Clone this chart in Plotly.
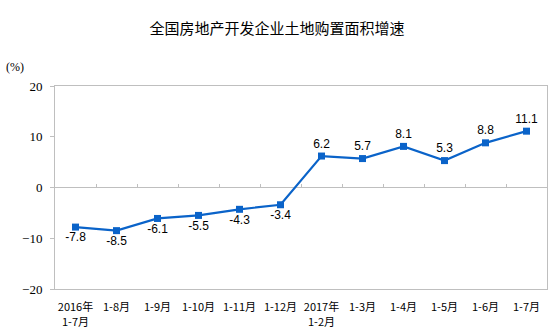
import plotly.graph_objects as go

# Land purchase area growth, year-to-date, percent
categories = ["2016年1-7月", "1-8月", "1-9月", "1-10月", "1-11月", "1-12月",
              "2017年1-2月", "1-3月", "1-4月", "1-5月", "1-6月", "1-7月"]
growth = [-7.8, -8.5, -6.1, -5.5, -4.3, -3.4, 6.2, 5.7, 8.1, 5.3, 8.8, 11.1]
y_ticks = [-20, -10, 0, 10, 20]

line_color = "#0A63C9"
grid_color = "#BFBFBF"
cjk_font = "Noto Sans CJK SC"

# Labels that start a new year are split over two lines: year on top, period below
tick_top, tick_bottom = [], []
for c in categories:
    if "年" in c:
        k = c.index("年") + 1
        tick_top.append(c[:k])
        tick_bottom.append(c[k:])
    else:
        tick_top.append(c)
        tick_bottom.append("")

text_pos = ["bottom center" if v < 0 else "top center" for v in growth]

fig = go.Figure()
fig.add_trace(go.Scatter(
    x=categories, y=growth,
    mode="lines+markers+text",
    line=dict(color=line_color, width=2.2),
    marker=dict(symbol="square", size=7, color=line_color),
    text=[f"{v:.1f}" for v in growth],
    textposition=text_pos,
    textfont=dict(family="Liberation Sans, Arial", size=12, color="#000000"),
    cliponaxis=False,
    showlegend=False,
))
# invisible trace carrying the boundary ticks on the zero line
fig.add_trace(go.Scatter(x=categories, y=growth, xaxis="x2", mode="none",
                         showlegend=False, hoverinfo="skip"))

annotations = [dict(text="(%)", xref="paper", yref="paper",
                    x=-0.082, y=1.095, xanchor="center", yanchor="middle",
                    showarrow=False,
                    font=dict(family="Liberation Serif", size=12, color="#000000"))]
for c, sub in zip(categories, tick_bottom):
    if sub:
        annotations.append(dict(text=sub, x=c, xref="x", y=-0.158, yref="paper",
                                xanchor="center", yanchor="middle", showarrow=False,
                                font=dict(family=cjk_font, size=11, color="#000000")))

fig.update_layout(
    width=554, height=336,
    margin=dict(l=55, r=7, t=86, b=47),
    paper_bgcolor="white", plot_bgcolor="white",
    title=dict(text="全国房地产开发企业土地购置面积增速",
               x=0.5, xanchor="center", y=0.915, yanchor="middle",
               font=dict(family=cjk_font, size=15, color="#000000")),
    xaxis=dict(
        type="category",
        showgrid=False, zeroline=False,
        showline=True, linecolor=grid_color, linewidth=1, mirror=True,
        ticks="", ticklabelstandoff=8,
        tickvals=categories, ticktext=tick_top,
        tickfont=dict(family=cjk_font, size=11, color="#000000"),
        range=[-0.5, 11.5],
    ),
    xaxis2=dict(
        type="category", overlaying="x", anchor="free", position=0.5,
        side="bottom", range=[-0.5, 11.5],
        showgrid=False, zeroline=False, showline=False,
        showticklabels=False, ticks="inside", ticklen=4, tickcolor=grid_color,
        tickson="boundaries",
    ),
    yaxis=dict(
        range=[-20, 20], tickvals=y_ticks,
        showgrid=False,
        zeroline=True, zerolinecolor=grid_color, zerolinewidth=1,
        showline=True, linecolor=grid_color, linewidth=1, mirror=True,
        ticks="outside", ticklen=4, tickcolor=grid_color, ticklabelstandoff=5,
        tickfont=dict(family="Liberation Serif, Times New Roman", size=13, color="#000000"),
    ),
    annotations=annotations,
)

fig.write_html("out.html")
